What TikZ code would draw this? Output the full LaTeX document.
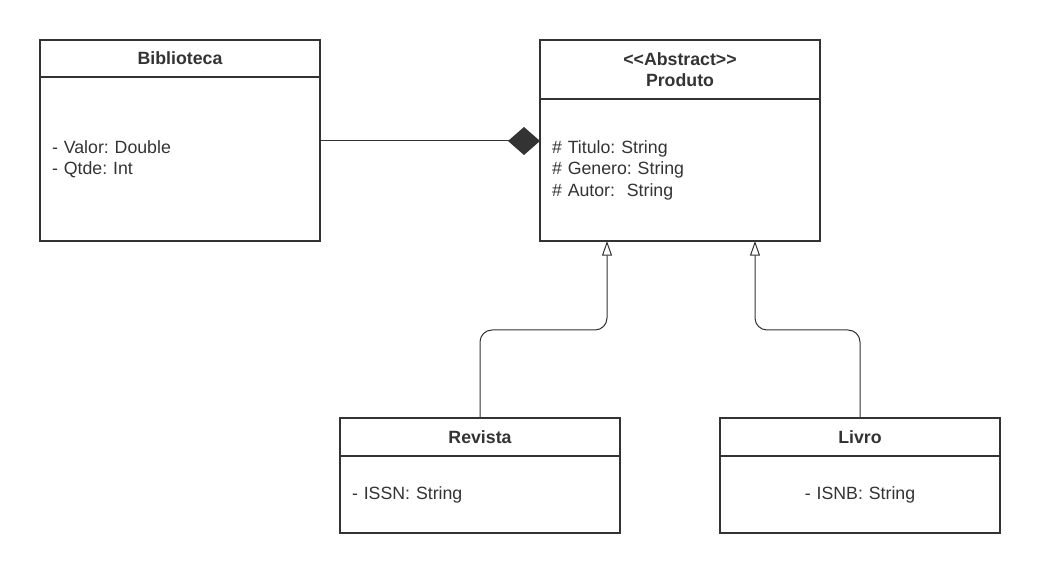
\documentclass[tikz,border=0pt]{standalone}
\usepackage{fontspec}
\setmainfont{Liberation Sans}
\usetikzlibrary{positioning,arrows.meta}
\frenchspacing

\begin{document}
\begin{tikzpicture}[x=0.75pt,y=-0.75pt,
  font=\fontsize{13.3}{16.1}\selectfont,
  cls/.style={rectangle,draw=\colL,line width=1.5pt,text=\colL,
              minimum width=210pt,inner xsep=9pt,inner ysep=0pt,outer sep=0pt},
  hdr/.style={cls,align=center,font=\fontsize{13.3}{15.8}\selectfont\bfseries},
  attr/.style={cls,text width=192pt,align=left},
  gen/.style={draw=\colL,line width=0.75pt,rounded corners=9pt,
              -{Triangle[open,length=11pt,width=7.5pt]}}]

\def\colL{black!80}

\useasboundingbox (0,0) rectangle (1040,573);

\node[hdr,minimum height=27.75pt]
      (bib) at (180,58.5) {Biblioteca};
\node[attr,minimum height=123pt,below=0pt of bib]
      (bibb) {- Valor: Double\\- Qtde: Int};

\node[hdr,minimum height=44.25pt]
      (prod) at (680,69.5) {<\kern0pt<Abstract>\kern0pt>\\Produto};
\node[attr,minimum height=106.5pt,below=0pt of prod]
      (prodb) {\# Titulo: String\\\# Genero: String\\\# Autor:\ \ String};

\node[hdr,minimum height=28.5pt]
      (rev) at (480,437) {Revista};
\node[attr,minimum height=57.75pt,below=0pt of rev]
      (revb) {- ISSN: String};

\node[hdr,minimum height=28.5pt]
      (liv) at (860,437) {Livro};
\node[attr,align=center,minimum height=57.75pt,below=0pt of liv]
      (livb) {- ISNB: String};

\draw[draw=\colL,line width=0.75pt,
      -{Diamond[length=24pt,width=21pt]}]
      (bibb.east |- 0,141) -- (prodb.west |- 0,141);

\draw[gen]
      (rev.north) -- (rev.north |- 0,330) -| (prodb.south -| 607,0);

\draw[gen]
      (liv.north) -- (liv.north |- 0,330) -| (prodb.south -| 755,0);

\end{tikzpicture}
\end{document}
